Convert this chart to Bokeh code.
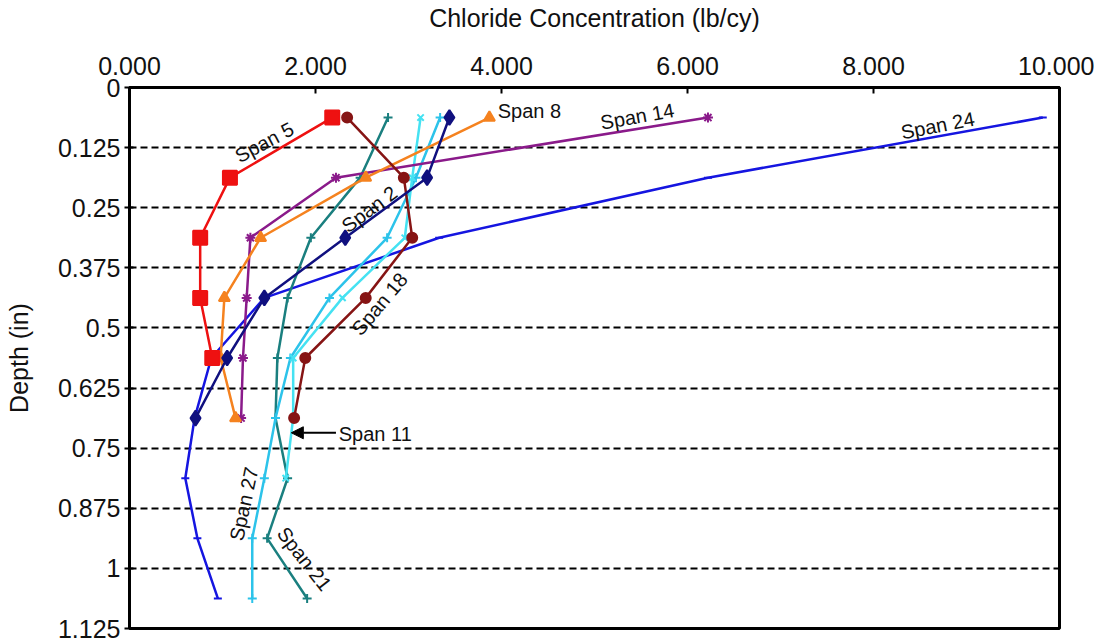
from bokeh.plotting import figure
from bokeh.models import Range1d, FixedTicker, Arrow, NormalHead, Label
from bokeh.embed import file_html
from bokeh.resources import INLINE
import math

# ---------------- data ----------------
depths = [0.0625, 0.1875, 0.3125, 0.4375, 0.5625, 0.6875, 0.8125, 0.9375, 1.0625]

span2 = [3.44, 3.20, 2.32, 1.45, 1.05, 0.71]
span5 = [2.18, 1.08, 0.76, 0.76, 0.89]
span8 = [3.87, 2.54, 1.41, 1.02, 0.98, 1.14]
span11 = [3.13, 3.04, 2.96, 2.29, 1.76, 1.76, 1.68]
span14 = [6.22, 2.22, 1.30, 1.26, 1.22, 1.20]
span18 = [2.34, 2.95, 3.04, 2.54, 1.89, 1.77]
span21 = [2.78, 2.48, 1.95, 1.70, 1.59, 1.57, 1.70, 1.48, 1.91]
span24 = [9.82, 6.22, 3.33, 1.45, 0.88, 0.70, 0.60, 0.73, 0.95]
span27 = [3.34, 3.08, 2.77, 2.15, 1.73, 1.57, 1.45, 1.32, 1.32]

x_ticks = [0, 2, 4, 6, 8, 10]
x_tick_labels = ["0.000", "2.000", "4.000", "6.000", "8.000", "10.000"]
y_ticks = [0, 0.125, 0.25, 0.375, 0.5, 0.625, 0.75, 0.875, 1.0, 1.125]
y_tick_labels = ["0", "0.125", "0.25", "0.375", "0.5", "0.625", "0.75", "0.875", "1", "1.125"]
grid_lines = [0.125, 0.25, 0.375, 0.5, 0.625, 0.75, 0.875, 1.0]

# label texts, positions (data units) and angles (degrees)
label_texts = ["Span 5", "Span 2", "Span 18", "Span 14", "Span 24", "Span 27", "Span 21"]
label_x = [1.45, 2.58, 2.69, 5.46, 8.69, 1.23, 1.88]
label_y = [0.114, 0.253, 0.450, 0.060, 0.079, 0.866, 0.980]
label_angle = [28, 37, 50, 10, 11, 78, -52]

FONT = "Liberation Sans"

p = figure(
    output_backend="svg", toolbar_location=None,
    frame_width=930, frame_height=541,
    min_border_left=129, min_border_top=80, min_border_right=35, min_border_bottom=13,
    x_range=Range1d(0, 10), y_range=Range1d(1.125, 0),
    x_axis_location="above",
)
p.background_fill_color = "white"
p.border_fill_color = "white"
p.outline_line_color = "black"
p.outline_line_width = 3

# axes
xa = p.xaxis[0]
xa.ticker = FixedTicker(ticks=x_ticks)
xa.major_label_overrides = {t: s for t, s in zip(x_ticks, x_tick_labels)}
xa.axis_label = "Chloride Concentration (lb/cy)"
ya = p.yaxis[0]
ya.ticker = FixedTicker(ticks=y_ticks)
ya.major_label_overrides = {t: s for t, s in zip(y_ticks, y_tick_labels)}
ya.axis_label = "Depth (in)"
for ax in (xa, ya):
    ax.axis_line_width = 3
    ax.axis_line_color = "black"
    ax.major_tick_line_color = "black"
    ax.major_tick_line_width = 2
    ax.minor_tick_line_color = None
    ax.major_label_text_font = FONT
    ax.major_label_text_font_size = "25px"
    ax.major_label_text_color = "#111111"
    ax.axis_label_text_font = FONT
    ax.axis_label_text_font_size = "25px"
    ax.axis_label_text_font_style = "normal"
    ax.axis_label_text_color = "#111111"
xa.major_tick_in = 6
xa.major_tick_out = 0
xa.major_label_standoff = 13
xa.axis_label_standoff = 22
ya.major_tick_in = 4
ya.major_tick_out = 5
ya.major_label_standoff = 4
ya.axis_label_standoff = 22

p.xgrid.visible = False
p.ygrid[0].ticker = FixedTicker(ticks=grid_lines)
p.ygrid[0].grid_line_color = "black"
p.ygrid[0].grid_line_width = 2
p.ygrid[0].grid_line_dash = "7 4"

LW = 2.5

def series(xs, color, marker, size, fill=True):
    ys = depths[:len(xs)]
    p.line(xs, ys, line_color=color, line_width=LW)
    p.scatter(xs, ys, marker=marker, size=size, line_color=color,
              fill_color=color if fill else None, line_width=2)

series(span24, "#1515e0", "dash", 8)
series(span21, "#1a7f7f", "cross", 9)
series(span27, "#2cc3ea", "cross", 9)
series(span11, "#45e2f2", "x", 9)
series(span14, "#8a1a8a", "asterisk", 10)
series(span8, "#f5821f", "triangle", 11)
series(span18, "#861414", "circle", 10)
series(span2, "#10107f", "diamond", 15)
series(span5, "#ee1111", "square", 14)

for t, x, y, a in zip(label_texts, label_x, label_y, label_angle):
    p.add_layout(Label(x=x, y=y, text=t, angle=math.radians(a),
                       text_font=FONT, text_font_size="20px", text_color="#111111",
                       text_align="center", text_baseline="middle"))

p.add_layout(Label(x=3.96, y=0.048, text="Span 8", text_font=FONT, text_font_size="20px",
                   text_color="#111111", text_align="left", text_baseline="middle"))
p.add_layout(Label(x=2.25, y=0.72, text="Span 11", text_font=FONT, text_font_size="20px",
                   text_color="#111111", text_align="left", text_baseline="middle"))
p.add_layout(Arrow(x_start=2.22, y_start=0.718, x_end=1.74, y_end=0.718,
                   line_color="black", line_width=2,
                   end=NormalHead(size=12, fill_color="black", line_color="black")))

open("out.html", "w").write(file_html(p, INLINE))
